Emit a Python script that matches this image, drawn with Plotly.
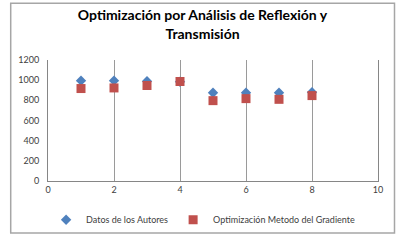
import plotly.graph_objects as go

x_vals = [1, 2, 3, 4, 5, 6, 7, 8]
datos_autores = [995, 995, 990, 985, 875, 875, 875, 880]
optim_gradiente = [917, 923, 947, 987, 797, 817, 810, 847]
x_ticks = [0, 2, 4, 6, 8, 10]
y_ticks = [0, 200, 400, 600, 800, 1000, 1200]

fig = go.Figure()
fig.add_trace(go.Scatter(
    x=x_vals, y=datos_autores, mode="markers", name="Datos de los Autores",
    marker=dict(symbol="diamond", size=8, color="#4F81BD")))
fig.add_trace(go.Scatter(
    x=x_vals, y=optim_gradiente, mode="markers", name="Optimización Metodo del Gradiente",
    marker=dict(symbol="square", size=9, color="#C0504D")))

font_family = "Lato, Open Sans, sans-serif"
fig.update_layout(
    width=405, height=241,
    margin=dict(l=48, r=27, t=60, b=60, autoexpand=False),
    paper_bgcolor="white", plot_bgcolor="white",
    font=dict(family=font_family, size=9, color="#404040"),
    title=dict(text="<b>Optimización por Análisis de Reflexión y<br>Transmisión</b>",
               x=0.5, xanchor="center", y=0.915, yanchor="top",
               font=dict(family=font_family, size=14, color="#000000")),
    showlegend=True,
    legend=dict(orientation="h", x=0.47, xanchor="center", y=-0.2, yanchor="top",
                font=dict(size=9, color="#404040"), itemwidth=30,
                bgcolor="rgba(0,0,0,0)"),
    xaxis=dict(range=[0, 10], tickvals=x_ticks, showgrid=True, gridcolor="#9a9a9a",
               gridwidth=1, showline=True, linecolor="#868686", linewidth=1,
               zeroline=False, ticks="", automargin=False),
    yaxis=dict(range=[0, 1200], tickvals=y_ticks, showgrid=False, showline=True,
               mirror=True,
               linecolor="#868686", linewidth=1, zeroline=False, ticks="",
               ticklabelstandoff=6, automargin=False),
    shapes=[dict(type="rect", xref="paper", yref="paper",
                 x0=-0.113, x1=1.05, y0=-0.43, y1=1.47,
                 line=dict(color="#a6a6a6", width=1.5))],
)

fig.write_html("out.html", config={"displayModeBar": False},
               post_script="document.body.style.margin='0';")
